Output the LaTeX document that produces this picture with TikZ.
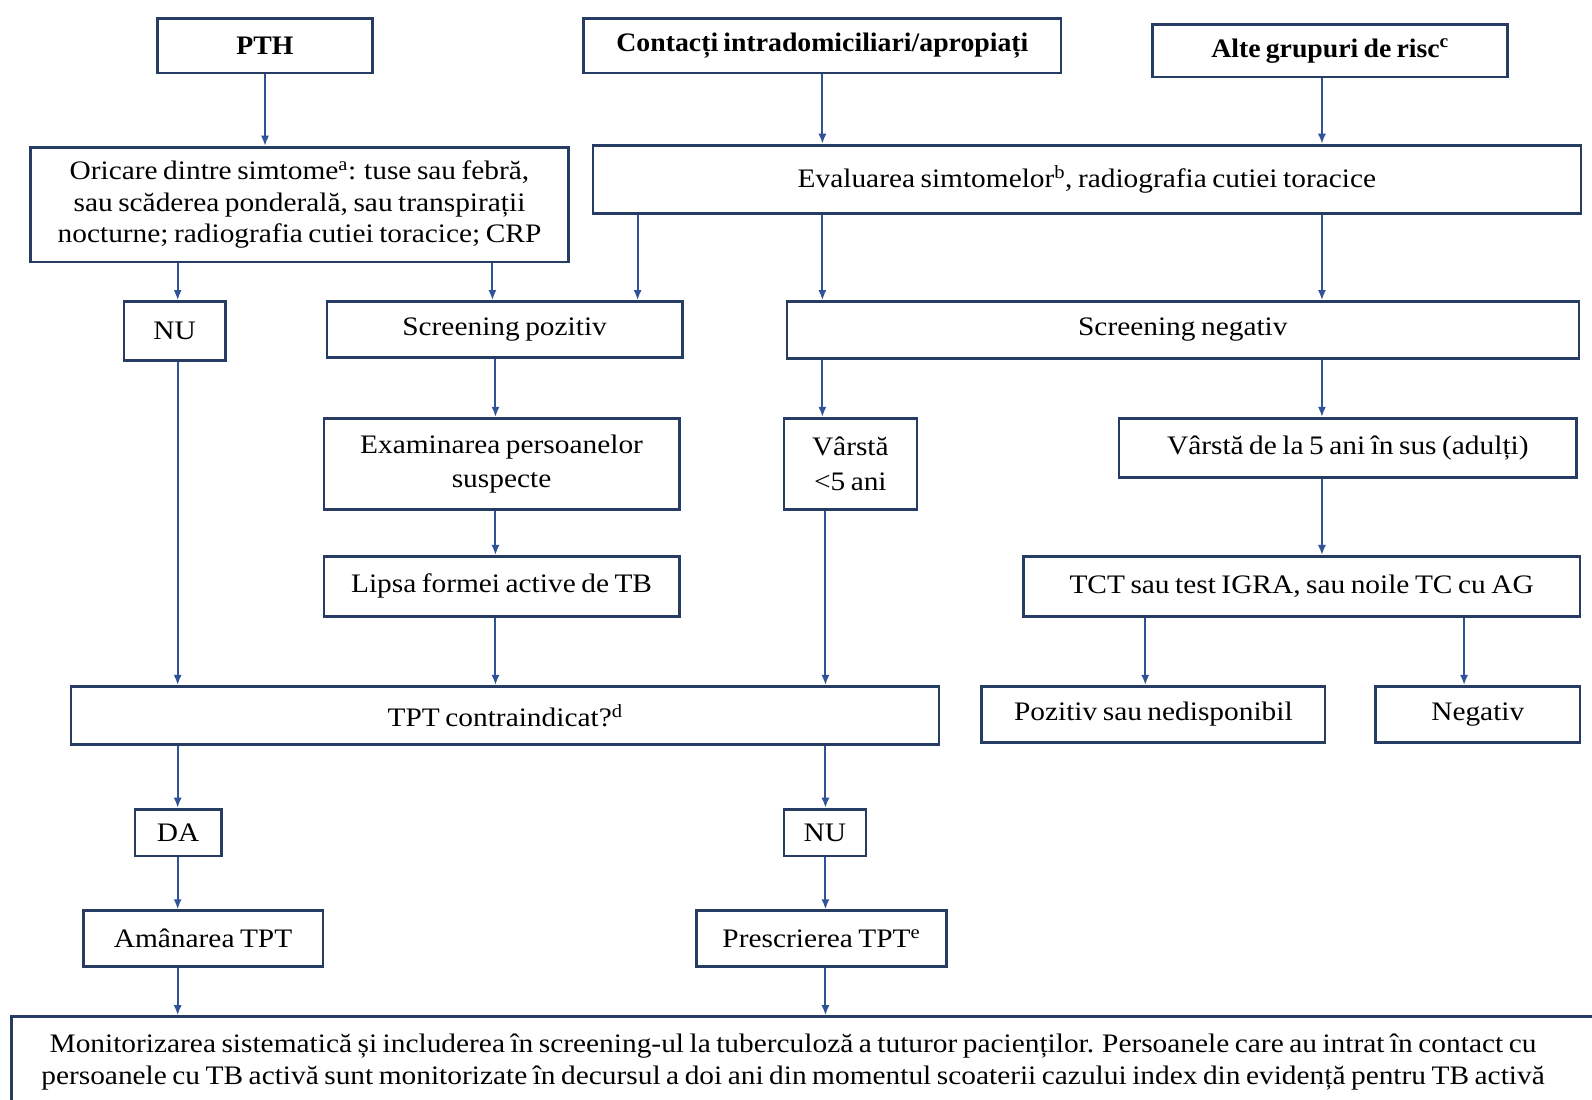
\documentclass[tikz,border=0pt]{standalone}
\usepackage{fontspec}
\setmainfont{Liberation Serif}[FakeStretch=1.1, WordSpace=0.75, BoldFeatures={FakeStretch=1.04}]
\usetikzlibrary{arrows.meta}
\definecolor{boxc}{RGB}{38,60,98}
\definecolor{arrc}{RGB}{47,83,150}
\tikzset{
  fbox/.style={draw=boxc, line width=2.6pt, inner sep=0pt, align=center, fill=white,
    font=\fontsize{26.3}{31}\selectfont},
  bfbox/.style={fbox, font=\fontsize{26.3}{31}\selectfont\bfseries},
  arr/.style={draw=arrc, line width=2pt, -{Latex[length=10pt,width=8pt]}},
}
\begin{document}
\begin{tikzpicture}[x=1pt,y=-1pt]
\useasboundingbox[fill=white] (0,0) rectangle (1568,1083);
% top row
\node[bfbox, minimum width=212, minimum height=54] (pth) at (261,45) {PTH};
\node[bfbox, minimum width=470, minimum height=54] (cont) at (810,45) {Contacți intradomiciliari/apropiați};
\node[bfbox, minimum width=350, minimum height=52] (alte) at (1310,50) {Alte grupuri de risc\textsuperscript{c}};
% second row
\node[fbox, minimum width=530, minimum height=113] (ori) at (295,201.5) {Oricare dintre simtome\textsuperscript{a}: tuse sau febră,\\ sau scăderea ponderală, sau transpirații\\ nocturne; radiografia cutiei toracice; CRP};
\node[fbox, minimum width=973, minimum height=67] (eval) at (1070.5,176.5) {Evaluarea simtomelor\textsuperscript{b}, radiografia cutiei toracice};
% third row
\node[fbox, minimum width=100, minimum height=58] (nu1) at (172,326) {NU};
\node[fbox, minimum width=350, minimum height=55] (spoz) at (497,324.5) {Screening pozitiv};
\node[fbox, minimum width=780, minimum height=56] (sneg) at (1165,325) {Screening negativ};
% fourth row
\node[fbox, minimum width=350, minimum height=90, font=\fontsize{26.3}{34}\selectfont] (exam) at (494,457) {Examinarea persoanelor\\ suspecte};
\node[fbox, minimum width=131, minimum height=90, font=\fontsize{26.3}{34}\selectfont] (v5) at (837.5,457) {Vârstă\\ <5 ani};
\node[fbox, minimum width=451, minimum height=58] (vad) at (1327.5,441) {Vârstă de la 5 ani în sus (adulți)};
% fifth row
\node[fbox, minimum width=350, minimum height=59] (lipsa) at (494,577.5) {Lipsa formei active de TB};
\node[fbox, minimum width=548, minimum height=59] (tct) at (1282,577.5) {TCT sau test IGRA, sau noile TC cu AG};
% sixth row
\node[fbox, minimum width=855, minimum height=57] (tpt) at (497.5,704.5) {TPT contraindicat?\textsuperscript{d}};
\node[fbox, minimum width=338, minimum height=55] (poz) at (1136,703.5) {Pozitiv sau nedisponibil};
\node[fbox, minimum width=201, minimum height=55] (neg) at (1455.5,703.5) {Negativ};
% seventh row
\node[fbox, minimum width=85, minimum height=46] (da) at (175.5,820) {DA};
\node[fbox, minimum width=81, minimum height=46] (nu2) at (812.5,820) {NU};
% eighth row
\node[fbox, minimum width=236, minimum height=55] (aman) at (200,924.5) {Amânarea TPT};
\node[fbox, minimum width=246, minimum height=55] (presc) at (809,924.5) {Prescrierea TPT\textsuperscript{e}};
% bottom box
\node[fbox, minimum width=1620, minimum height=120, anchor=north west] (monbox) at (10,1000) {};
\node[font=\fontsize{26.3}{32}\selectfont, align=center, inner sep=0pt] (montext) at (781,1046) {Monitorizarea sistematică și includerea în screening-ul la tuberculoză a tuturor pacienților. Persoanele care au intrat în contact cu\\ persoanele cu TB activă sunt monitorizate în decursul a doi ani din momentul scoaterii cazului index din evidență pentru TB activă};
% x positions
\coordinate (c175) at (175,0);
\coordinate (c261) at (261,0);
\coordinate (c485) at (485,0);
\coordinate (c488) at (488,0);
\coordinate (c628) at (628,0);
\coordinate (c810) at (810,0);
\coordinate (c813) at (813,0);
\coordinate (c1128) at (1128,0);
\coordinate (c1302) at (1302,0);
\coordinate (c1442) at (1442,0);
% connectors
\draw[arr] (pth.south -| c261) -- (ori.north -| c261);
\draw[arr] (cont.south -| c810) -- (eval.north -| c810);
\draw[arr] (alte.south -| c1302) -- (eval.north -| c1302);
\draw[arr] (ori.south -| c175) -- (nu1.north -| c175);
\draw[arr] (ori.south -| c485) -- (spoz.north -| c485);
\draw[arr] (eval.south -| c628) -- (spoz.north -| c628);
\draw[arr] (eval.south -| c810) -- (sneg.north -| c810);
\draw[arr] (eval.south -| c1302) -- (sneg.north -| c1302);
\draw[arr] (nu1.south -| c175) -- (tpt.north -| c175);
\draw[arr] (spoz.south -| c488) -- (exam.north -| c488);
\draw[arr] (sneg.south -| c810) -- (v5.north -| c810);
\draw[arr] (sneg.south -| c1302) -- (vad.north -| c1302);
\draw[arr] (exam.south -| c488) -- (lipsa.north -| c488);
\draw[arr] (lipsa.south -| c488) -- (tpt.north -| c488);
\draw[arr] (v5.south -| c813) -- (tpt.north -| c813);
\draw[arr] (vad.south -| c1302) -- (tct.north -| c1302);
\draw[arr] (tct.south -| c1128) -- (poz.north -| c1128);
\draw[arr] (tct.south -| c1442) -- (neg.north -| c1442);
\draw[arr] (tpt.south -| c175) -- (da.north -| c175);
\draw[arr] (tpt.south -| c813) -- (nu2.north -| c813);
\draw[arr] (da.south -| c175) -- (aman.north -| c175);
\draw[arr] (nu2.south -| c813) -- (presc.north -| c813);
\draw[arr] (aman.south -| c175) -- (monbox.north -| c175);
\draw[arr] (presc.south -| c813) -- (monbox.north -| c813);
\end{tikzpicture}
\end{document}
